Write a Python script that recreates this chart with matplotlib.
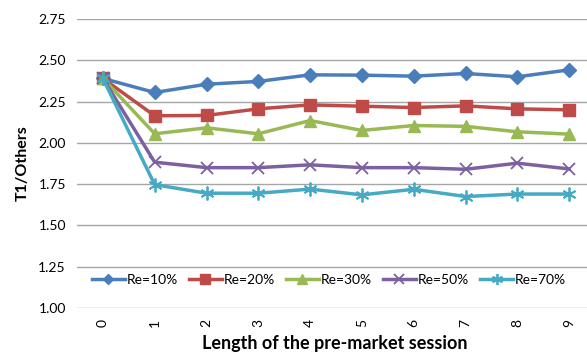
import matplotlib
matplotlib.use("Agg")
import matplotlib.pyplot as plt

x = list(range(10))
labels = ["Re=10%", "Re=20%", "Re=30%", "Re=50%", "Re=70%"]
re10 = [2.39, 2.305, 2.355, 2.372, 2.412, 2.41, 2.404, 2.42, 2.40, 2.442]
re20 = [2.39, 2.164, 2.166, 2.206, 2.23, 2.222, 2.214, 2.224, 2.206, 2.20]
re30 = [2.39, 2.055, 2.091, 2.055, 2.135, 2.075, 2.105, 2.10, 2.067, 2.053]
re50 = [2.39, 1.883, 1.85, 1.85, 1.867, 1.85, 1.85, 1.84, 1.877, 1.842]
re70 = [2.39, 1.747, 1.695, 1.695, 1.72, 1.685, 1.719, 1.675, 1.69, 1.69]

colors = ["#4a7ebb", "#be4b48", "#98b954", "#7d60a0", "#46aac5"]
markers = ["D", "s", "^", "x", (6, 2, 0)]
msizes = [7, 9, 9, 9, 10]

plt.rcParams['font.family'] = ['Lato', 'DejaVu Sans']

fig = plt.figure(figsize=(5.87, 3.53), dpi=100)
W, H = 587, 353
left, right, top, bottom = 77, 595, 19, 308
ax = fig.add_axes([left / W, 1 - bottom / H, (right - left) / W, (bottom - top) / H])

series = [re10, re20, re30, re50, re70]
for s, c, m, ms, lab in zip(series, colors, markers, msizes, labels):
    ax.plot(x, s, color=c, marker=m, markersize=ms, linewidth=2.5, label=lab,
            markeredgewidth=1.3 if m in ("x",) or isinstance(m, tuple) else 1.0,
            markeredgecolor=c, markerfacecolor=c)

ax.set_xlim(-0.5, 9.5)
ax.set_ylim(1.0, 2.75)
ax.set_yticks([1.0, 1.25, 1.5, 1.75, 2.0, 2.25, 2.5, 2.75])
ax.set_yticklabels(["1.00", "1.25", "1.50", "1.75", "2.00", "2.25", "2.50", "2.75"])
ax.set_xticks(x)
ax.set_xticklabels([str(i) for i in x], rotation=90)
ax.tick_params(axis='both', length=0, labelsize=10, colors="#000000")
ax.tick_params(axis='y', pad=8)
ax.tick_params(axis='x', pad=8)
ax.grid(axis='y', color="#a6a6a6", linewidth=1.0)
ax.set_axisbelow(True)
for sp in ax.spines.values():
    sp.set_visible(False)

ax.set_ylabel("T1/Others", fontsize=11.5, fontweight='bold', labelpad=6)
fig.text(335 / W, 1 - 343 / H, "Length of the pre-market session",
         ha='center', va='center', fontsize=13, fontweight='bold')

leg = ax.legend(loc='center', bbox_to_anchor=((329 - left) / (right - left), (308 - 280) / (308 - 19)),
                ncol=5, frameon=False, fontsize=10, handlelength=2.4, handletextpad=0.15,
                columnspacing=0.75, borderaxespad=0, markerscale=0.8)

fig.savefig("out.png", dpi=100)
